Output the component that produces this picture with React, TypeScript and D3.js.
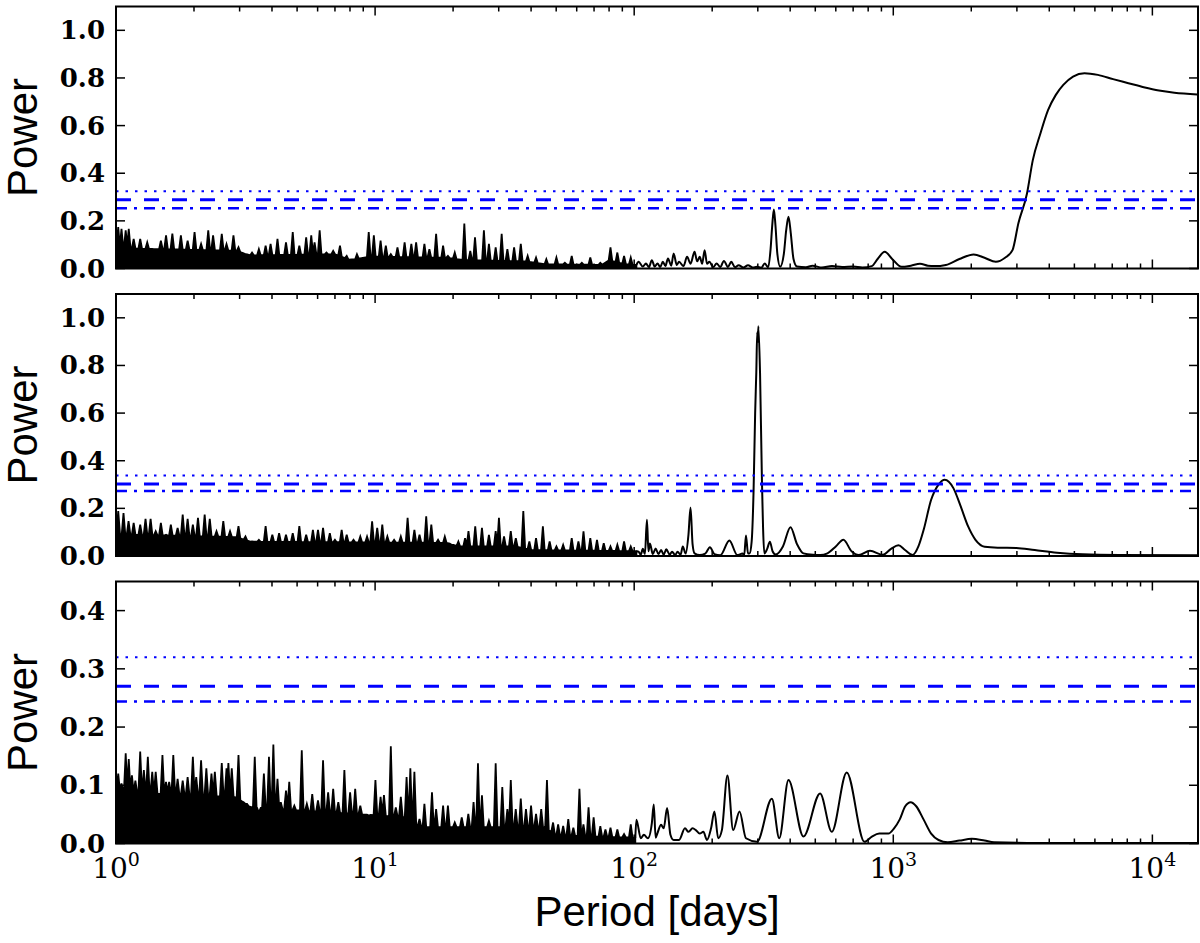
import React, { useEffect, useRef } from 'react';
import * as d3 from 'd3';

type Pt = [number, number];

// ---- data: [period (days), power] ----

// top panel: dense noise spikes (1 - 100 d), level of the solid noise floor, smooth tail
const noisePeaks1: Pt[] = [
  [1.02, 0.174], [1.05, 0.167], [1.09, 0.16], [1.12, 0.167], [1.17, 0.124], [1.24, 0.124],
  [1.32, 0.11], [1.4, 0.081], [1.49, 0.117], [1.56, 0.139], [1.65, 0.146], [1.78, 0.139],
  [1.89, 0.117], [2.01, 0.153], [2.13, 0.103], [2.27, 0.16], [2.37, 0.139], [2.56, 0.146],
  [2.67, 0.103], [2.84, 0.139], [2.97, 0.089], [3.16, 0.06], [3.35, 0.067], [3.56, 0.081],
  [3.78, 0.096], [3.95, 0.103], [4.2, 0.124], [4.53, 0.11], [4.81, 0.153], [5.1, 0.096],
  [5.42, 0.131], [5.67, 0.139], [5.84, 0.11], [6.11, 0.16], [6.49, 0.067], [6.89, 0.074],
  [7.32, 0.096], [7.77, 0.053], [8.51, 0.06], [9.45, 0.153], [9.89, 0.139], [10.5, 0.117],
  [11.0, 0.096], [11.5, 0.06], [12.2, 0.089], [13.0, 0.11], [13.8, 0.103], [14.4, 0.11],
  [15.5, 0.103], [16.2, 0.081], [17.2, 0.146], [18.3, 0.096], [19.1, 0.053], [20.3, 0.067],
  [22.1, 0.189], [23.3, 0.074], [24.3, 0.131], [26.3, 0.16], [27.5, 0.103], [29.2, 0.089],
  [30.8, 0.146], [32.4, 0.081], [34.4, 0.089], [36.5, 0.103], [38.8, 0.053], [41.8, 0.046],
  [45.8, 0.039], [50.1, 0.046], [54.0, 0.024], [57.4, 0.053], [62.8, 0.024], [67.7, 0.046],
  [74.0, 0.024], [81.0, 0.089], [86.1, 0.067], [91.4, 0.053], [97.0, 0.046],
];
const noiseFloor1: Pt[] = [
  [1, 0.085], [2.9, 0.075], [3.3, 0.055], [7, 0.06], [8, 0.035], [9.5, 0.05], [19, 0.045],
  [22, 0.035], [38, 0.03], [45, 0.018], [75, 0.015], [80, 0.035], [90, 0.02], [102, 0.015],
];
const tail1: Pt[] = [
  [102, 0.015], [104, 0.028], [108, 0.008], [111, 0.021], [114, 0.006], [117, 0.035], [120, 0.008],
  [123, 0.021], [126, 0.006], [129, 0.028], [132, 0.01], [135, 0.042], [139, 0.012], [142, 0.063],
  [146, 0.015], [149, 0.028], [155, 0.01], [160, 0.049], [165, 0.02], [171, 0.07], [175, 0.03],
  [179, 0.049], [183, 0.02], [187, 0.077], [191, 0.02], [195, 0.028], [202, 0.006], [208, 0.021],
  [215, 0.006], [222, 0.032], [230, 0.006], [237, 0.028], [245, 0.005], [253, 0.014], [264, 0.004],
  [275, 0.014], [287, 0.004], [298, 0.007], [309, 0.003], [319, 0.021], [329, 0.005], [336, 0.08],
  [341, 0.18], [346, 0.248], [351, 0.18], [357, 0.06], [366, 0.007], [378, 0.06], [386, 0.16],
  [394, 0.217], [402, 0.15], [412, 0.04], [425, 0.008], [460, 0.005], [488, 0.012], [530, 0.004],
  [580, 0.01], [635, 0.006], [700, 0.008], [760, 0.004], [826, 0.01], [870, 0.04], [927, 0.07],
  [990, 0.04], [1076, 0.007], [1170, 0.012], [1268, 0.02], [1360, 0.012], [1445, 0.01],
  [1596, 0.015], [1800, 0.04], [2042, 0.059], [2250, 0.045], [2488, 0.028], [2700, 0.045],
  [2885, 0.077], [3040, 0.19], [3280, 0.314], [3454, 0.454], [3697, 0.567], [3956, 0.665],
  [4240, 0.729], [4531, 0.771], [4941, 0.806], [5470, 0.82], [6160, 0.813], [7050, 0.795],
  [8080, 0.778], [9260, 0.761], [10600, 0.747], [12160, 0.738], [14900, 0.731],
];

// middle panel
const noisePeaks2: Pt[] = [
  [1.02, 0.189], [1.069, 0.18], [1.118, 0.146], [1.17, 0.139], [1.24, 0.132], [1.3, 0.156],
  [1.36, 0.156], [1.423, 0.104], [1.49, 0.139], [1.56, 0.089], [1.628, 0.132], [1.729, 0.118],
  [1.809, 0.174], [1.89, 0.156], [1.98, 0.132], [2.072, 0.16], [2.199, 0.174], [2.301, 0.156],
  [2.443, 0.104], [2.595, 0.146], [2.755, 0.104], [2.97, 0.125], [3.16, 0.082], [3.35, 0.061],
  [3.56, 0.068], [3.78, 0.125], [4.012, 0.089], [4.261, 0.096], [4.53, 0.089], [4.81, 0.096],
  [5.1, 0.125], [5.42, 0.089], [5.754, 0.11], [6.02, 0.11], [6.297, 0.118], [6.687, 0.096],
  [6.998, 0.068], [7.43, 0.11], [7.77, 0.089], [8.254, 0.068], [8.767, 0.082], [9.31, 0.082],
  [9.739, 0.146], [10.19, 0.118], [10.66, 0.132], [11.15, 0.082], [11.84, 0.068], [12.57, 0.082],
  [13.35, 0.16], [14.18, 0.11], [14.84, 0.089], [15.75, 0.167], [16.48, 0.132], [17.5, 0.068],
  [18.58, 0.082], [19.73, 0.047], [20.96, 0.061], [22.25, 0.075], [22.93, 0.104], [24.35, 0.125],
  [25.85, 0.118], [27.5, 0.089], [29.2, 0.104], [30.06, 0.16], [31.45, 0.082], [33.39, 0.104],
  [34.93, 0.075], [37.33, 0.189], [39.39, 0.061], [41.8, 0.075], [44.42, 0.125], [47.17, 0.061],
  [50.1, 0.04], [53.19, 0.047], [57.4, 0.075], [60.92, 0.061], [63.73, 0.104], [67.7, 0.075],
  [71.85, 0.068], [76.3, 0.054], [81.0, 0.04], [86.1, 0.047], [91.4, 0.061], [97.0, 0.04],
];
const noiseFloor2: Pt[] = [
  [1, 0.09], [2.9, 0.08], [3.3, 0.06], [19, 0.055], [21, 0.04], [35, 0.04], [40, 0.025], [102, 0.02],
];
const tail2: Pt[] = [
  [102, 0.02], [104, 0.018], [106, 0.005], [108, 0.03], [110, 0.008], [112, 0.152], [113.5, 0.02],
  [115, 0.053], [118, 0.008], [121, 0.032], [124, 0.008], [127, 0.025], [130, 0.006], [133, 0.028],
  [137, 0.006], [140, 0.018], [144, 0.004], [147, 0.018], [151, 0.005], [154, 0.04], [158, 0.01],
  [162, 0.09], [165, 0.204], [168, 0.05], [171, 0.011], [179, 0.004], [188, 0.01], [196, 0.037],
  [204, 0.008], [215, 0.003], [233, 0.065], [250, 0.004], [262, 0.01], [266, 0.005], [270, 0.086],
  [275, 0.01], [279, 0.011], [284, 0.06], [289, 0.278], [293, 0.6], [296, 0.77], [298.5, 0.94],
  [300, 0.9], [301.5, 0.965], [306, 0.77], [311, 0.335], [318, 0.011], [326, 0.03], [334, 0.06],
  [342, 0.02], [352, 0.006], [375, 0.04], [401, 0.121], [425, 0.05], [450, 0.011], [490, 0.005],
  [522, 0.004], [557, 0.011], [600, 0.04], [642, 0.068], [690, 0.02], [736, 0.004], [813, 0.022],
  [912, 0.005], [980, 0.03], [1047, 0.045], [1110, 0.025], [1187, 0.004], [1250, 0.04],
  [1310, 0.11], [1400, 0.236], [1495, 0.3], [1581, 0.32], [1706, 0.285], [1821, 0.208],
  [1945, 0.124], [2076, 0.068], [2253, 0.039], [2529, 0.035], [2983, 0.034], [3515, 0.025],
  [4283, 0.014], [5387, 0.007], [7480, 0.004], [14930, 0.003],
];

// bottom panel
const noisePeaks3: Pt[] = [
  [1.02, 0.12], [1.05, 0.103], [1.09, 0.155], [1.12, 0.145], [1.152, 0.117], [1.188, 0.108],
  [1.24, 0.158], [1.281, 0.126], [1.327, 0.149], [1.38, 0.123], [1.423, 0.123], [1.511, 0.152],
  [1.56, 0.106], [1.604, 0.106], [1.664, 0.152], [1.729, 0.111], [1.809, 0.108], [1.89, 0.114],
  [1.98, 0.149], [2.04, 0.114], [2.13, 0.143], [2.232, 0.129], [2.336, 0.12], [2.407, 0.123],
  [2.56, 0.138], [2.67, 0.129], [2.715, 0.138], [2.798, 0.129], [2.97, 0.152], [3.109, 0.071],
  [3.203, 0.068], [3.432, 0.149], [3.56, 0.053], [3.722, 0.12], [3.894, 0.149], [4.049, 0.17],
  [4.2, 0.111], [4.325, 0.071], [4.53, 0.091], [4.663, 0.106], [4.878, 0.065], [5.212, 0.16],
  [5.452, 0.068], [5.72, 0.085], [6.02, 0.074], [6.297, 0.143], [6.588, 0.088], [6.89, 0.094],
  [7.211, 0.071], [7.611, 0.126], [8.009, 0.088], [8.379, 0.094], [8.767, 0.065], [9.45, 0.048],
  [10.03, 0.109], [10.5, 0.08], [10.82, 0.083], [11.5, 0.167], [12.02, 0.062], [12.57, 0.08],
  [13.23, 0.114], [13.68, 0.129], [14.18, 0.123], [14.84, 0.042], [15.5, 0.068], [16.58, 0.088],
  [17.2, 0.059], [18.3, 0.065], [19.1, 0.065], [20.3, 0.036], [21.6, 0.045], [22.9, 0.051],
  [23.99, 0.071], [24.95, 0.138], [25.85, 0.083], [27.5, 0.039], [29.2, 0.138], [30.97, 0.097],
  [32.4, 0.059], [33.4, 0.109], [34.9, 0.059], [36.5, 0.077], [38.22, 0.059], [39.99, 0.065],
  [41.8, 0.051], [43.77, 0.059], [46.06, 0.109], [48.63, 0.036], [50.87, 0.033], [53.2, 0.03],
  [55.67, 0.042], [58.23, 0.027], [61.47, 0.094], [63.7, 0.033], [66.66, 0.062], [69.74, 0.045],
  [74.0, 0.03], [77.46, 0.024], [81.0, 0.027], [86.1, 0.024], [91.4, 0.016], [97.0, 0.033],
];
const noiseFloor3: Pt[] = [
  [1, 0.088], [2.9, 0.08], [3.3, 0.062], [9, 0.05], [13.5, 0.045], [14.8, 0.028], [45, 0.028],
  [50, 0.014], [101, 0.01],
];
const tail3: Pt[] = [
  [101, 0.01], [102, 0.041], [106, 0.009], [109, 0.015], [113, 0.009], [117, 0.035], [119, 0.067],
  [121, 0.01], [123, 0.018], [127, 0.032], [130, 0.026], [134, 0.061], [138, 0.015], [142, 0.006],
  [149, 0.006], [157, 0.026], [162, 0.02], [168, 0.026], [173, 0.023], [179, 0.017], [185, 0.02],
  [191, 0.006], [198, 0.026], [204, 0.055], [211, 0.009], [218, 0.023], [229, 0.117], [241, 0.023],
  [255, 0.055], [270, 0.009], [298, 0.003], [340, 0.077], [363, 0.009], [394, 0.109], [450, 0.012],
  [522, 0.086], [579, 0.02], [661, 0.122], [774, 0.003], [827, 0.012], [883, 0.017], [958, 0.017],
  [1007, 0.026], [1058, 0.041], [1112, 0.064], [1167, 0.071], [1226, 0.064], [1310, 0.041],
  [1400, 0.017], [1495, 0.006], [1622, 0.002], [1800, 0.005], [2010, 0.008], [2250, 0.005],
  [2448, 0.002], [3290, 0.001], [14930, 0.001],
];

// significance levels: dotted, dashed, dash-dot
const levels1 = [0.324, 0.289, 0.253];
const levels2 = [0.338, 0.302, 0.273];
const levels3 = [0.32, 0.27, 0.244];

const yMaxes = [1.1, 1.1, 0.45];
const yTicksTall = [0, 0.2, 0.4, 0.6, 0.8, 1.0];
const yTicksShort = [0, 0.1, 0.2, 0.3, 0.4];
const xDomain: [number, number] = [1, 15000];
const xMajorTicks = [1, 10, 100, 1000, 10000];
const xTickExponents = ['0', '1', '2', '3', '4'];

const panels = [
  { peaks: noisePeaks1, floor: noiseFloor1, tail: tail1, levels: levels1, yMax: yMaxes[0], yTicks: yTicksTall },
  { peaks: noisePeaks2, floor: noiseFloor2, tail: tail2, levels: levels2, yMax: yMaxes[1], yTicks: yTicksTall },
  { peaks: noisePeaks3, floor: noiseFloor3, tail: tail3, levels: levels3, yMax: yMaxes[2], yTicks: yTicksShort },
];

const W = 1200;
const H = 943;

const App: React.FC = () => {
  const svgRef = useRef<SVGSVGElement>(null);

  useEffect(() => {
    if (!svgRef.current) return;
    const svg = d3.select(svgRef.current);
    svg.selectAll('*').remove();

    const left = 116;
    const right = 1198;
    const top0 = 6.5;
    const step = 287.5;
    const ph = 262;

    const x = d3.scaleLog().domain(xDomain).range([left, right]);

    const minorTicks: number[] = [];
    for (let e = 0; e <= 4; e++) {
      for (let m = 2; m <= 9; m++) {
        const v = m * Math.pow(10, e);
        if (v < xDomain[1]) minorTicks.push(v);
      }
    }

    const dashes = [
      { dash: '2.5,7', width: 2 },
      { dash: '15,13', width: 3 },
      { dash: '11,7,3,7', width: 2.5 },
    ];

    panels.forEach((p, i) => {
      const top = top0 + i * step;
      const bottom = top + ph;
      const y = d3.scaleLinear().domain([0, p.yMax]).range([bottom, top]);
      const g = svg.append('g');

      const clipId = `clip-${i}`;
      svg
        .append('clipPath')
        .attr('id', clipId)
        .append('rect')
        .attr('x', left)
        .attr('y', top)
        .attr('width', right - left)
        .attr('height', ph);

      const plot = g.append('g').attr('clip-path', `url(#${clipId})`);

      // noise region: spikes standing on the solid floor
      const floor = d3
        .scaleLog()
        .domain(p.floor.map(d => d[0]))
        .range(p.floor.map(d => d[1]))
        .clamp(true);
      const k = Math.pow(10, 0.007);
      const outline: Pt[] = [[1, floor(1)]];
      p.peaks.forEach(([per, v]) => {
        outline.push([per / k, floor(per / k)], [per, v], [per * k, floor(per * k)]);
      });
      const lastFloor = p.floor[p.floor.length - 1][0];
      outline.push([lastFloor, floor(lastFloor)]);

      const area = d3
        .area<Pt>()
        .x(d => x(d[0]))
        .y0(y(0))
        .y1(d => y(d[1]));
      plot
        .append('path')
        .datum(outline)
        .attr('d', area)
        .attr('fill', '#000')
        .attr('stroke', '#000')
        .attr('stroke-width', 1.8)
        .attr('stroke-linejoin', 'miter');

      const line = d3
        .line<Pt>()
        .x(d => x(d[0]))
        .y(d => y(d[1]))
        .curve(d3.curveMonotoneX);
      plot
        .append('path')
        .datum(p.tail)
        .attr('d', line)
        .attr('fill', 'none')
        .attr('stroke', '#000')
        .attr('stroke-width', 2);

      // significance levels
      p.levels.forEach((lv, j) => {
        plot
          .append('line')
          .attr('x1', left)
          .attr('x2', right)
          .attr('y1', y(lv))
          .attr('y2', y(lv))
          .attr('stroke', '#0000ff')
          .attr('stroke-width', dashes[j].width)
          .attr('stroke-dasharray', dashes[j].dash);
      });

      // frame
      g.append('rect')
        .attr('x', left)
        .attr('y', top)
        .attr('width', right - left)
        .attr('height', ph)
        .attr('fill', 'none')
        .attr('stroke', '#000')
        .attr('stroke-width', 2);

      // x ticks (inside, top and bottom)
      const tickG = g.append('g').attr('stroke', '#000').attr('stroke-width', 1.5);
      xMajorTicks.forEach(t => {
        const xx = x(t);
        tickG.append('line').attr('x1', xx).attr('x2', xx).attr('y1', bottom).attr('y2', bottom - 9);
        tickG.append('line').attr('x1', xx).attr('x2', xx).attr('y1', top).attr('y2', top + 9);
      });
      minorTicks.forEach(t => {
        const xx = x(t);
        tickG.append('line').attr('x1', xx).attr('x2', xx).attr('y1', bottom).attr('y2', bottom - 5);
        tickG.append('line').attr('x1', xx).attr('x2', xx).attr('y1', top).attr('y2', top + 5);
      });

      // y ticks (inside, left and right) and labels
      p.yTicks.forEach(t => {
        const yy = y(t);
        tickG.append('line').attr('x1', left).attr('x2', left + 9).attr('y1', yy).attr('y2', yy);
        tickG.append('line').attr('x1', right).attr('x2', right - 9).attr('y1', yy).attr('y2', yy);
        g.append('text')
          .attr('x', 105)
          .attr('y', yy)
          .attr('text-anchor', 'end')
          .attr('dominant-baseline', 'central')
          .attr('font-family', '"DejaVu Serif", serif')
          .attr('font-weight', 'bold')
          .attr('font-size', 26)
          .attr('fill', '#000')
          .text(d3.format('.1f')(t));
      });

      // y axis title
      const cy = (top + bottom) / 2;
      g.append('text')
        .attr('x', 37)
        .attr('y', cy)
        .attr('transform', `rotate(-90, 37, ${cy})`)
        .attr('text-anchor', 'middle')
        .attr('font-family', '"Liberation Sans", Arial, sans-serif')
        .attr('font-size', 42)
        .attr('fill', '#000')
        .text('Power');

      // x tick labels only on the bottom panel
      if (i === panels.length - 1) {
        xMajorTicks.forEach((t, j) => {
          const txt = g
            .append('text')
            .attr('x', x(t))
            .attr('y', 878)
            .attr('text-anchor', 'middle')
            .attr('font-family', '"DejaVu Serif", serif')
            .attr('font-size', 28)
            .attr('fill', '#000');
          txt.append('tspan').text('10');
          txt.append('tspan').attr('dy', -12).attr('font-size', 19).text(xTickExponents[j]);
        });
      }
    });

    svg
      .append('text')
      .attr('x', (116 + 1198) / 2)
      .attr('y', 926)
      .attr('text-anchor', 'middle')
      .attr('font-family', '"Liberation Sans", Arial, sans-serif')
      .attr('font-size', 42)
      .attr('fill', '#000')
      .text('Period [days]');
  }, []);

  return (
    <svg
      ref={svgRef}
      width={W}
      height={H}
      style={{ position: 'absolute', left: 0, top: 0, background: '#fff' }}
      role="img"
      aria-label="Periodograms of three data sets: power against period in days"
    />
  );
};

export default App;
